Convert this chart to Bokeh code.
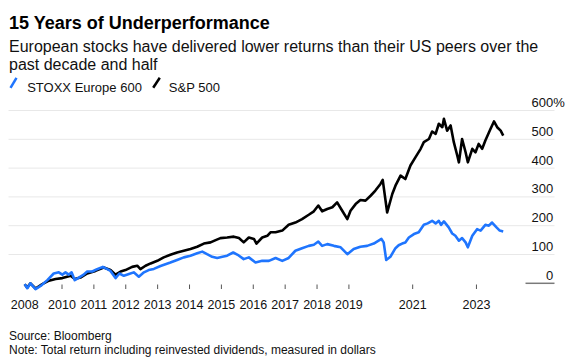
from bokeh.plotting import figure
from bokeh.models import Range1d
from bokeh.core.properties import value
from bokeh.embed import file_html
from bokeh.resources import INLINE

# ---------------- data ----------------
TITLE = "15 Years of Underperformance"
SUBTITLE_LINES = [
    "European stocks have delivered lower returns than their US peers over the",
    "past decade and half",
]
SERIES_NAMES = ["STOXX Europe 600", "S&P 500"]
SOURCE = "Source: Bloomberg"
NOTE = "Note: Total return including reinvested dividends, measured in dollars"

# decimal years / cumulative total return in %
STOXX_T = [2008.83, 2008.91, 2009.01, 2009.17, 2009.33, 2009.54, 2009.74, 2009.90, 2010.01, 2010.11,
           2010.21, 2010.30, 2010.40, 2010.53, 2010.68, 2010.79, 2010.95, 2011.10, 2011.28, 2011.42,
           2011.52, 2011.68, 2011.80, 2011.94, 2012.10, 2012.25, 2012.41, 2012.57, 2012.72, 2012.88,
           2013.09, 2013.40, 2013.61, 2013.82, 2014.03, 2014.24, 2014.40, 2014.55, 2014.71, 2014.87,
           2015.03, 2015.18, 2015.37, 2015.51, 2015.70, 2015.86, 2016.07, 2016.28, 2016.49, 2016.70,
           2016.91, 2017.11, 2017.32, 2017.53, 2017.74, 2017.90, 2018.04, 2018.16, 2018.32, 2018.53,
           2018.74, 2018.95, 2019.15, 2019.36, 2019.57, 2019.78, 2020.02, 2020.09, 2020.17, 2020.30,
           2020.46, 2020.56, 2020.67, 2020.77, 2020.88, 2021.04, 2021.19, 2021.35, 2021.47, 2021.61,
           2021.72, 2021.82, 2021.89, 2021.98, 2022.13, 2022.24, 2022.34, 2022.45, 2022.55, 2022.66,
           2022.73, 2022.87, 2023.02, 2023.13, 2023.28, 2023.39, 2023.49, 2023.63, 2023.73, 2023.84]
STOXX_V = [-3, -17, 0, -20, -9, 11, 34, 38, 30, 38,
           30, 38, 11, 20, 30, 41, 41, 49, 57, 49,
           43, 18, 34, 26, 32, 38, 23, 38, 46, 50,
           60, 72, 81, 90, 96, 104, 110, 101, 92, 88,
           92, 96, 107, 99, 84, 90, 72, 78, 78, 88,
           78, 88, 113, 122, 130, 134, 145, 130, 136, 130,
           125, 101, 119, 127, 130, 138, 154, 142, 81, 92,
           122, 132, 138, 142, 159, 171, 177, 203, 208, 217,
           208, 217, 203, 215, 194, 173, 165, 148, 157, 142,
           125, 165, 188, 183, 203, 200, 211, 194, 183, 180]

SPX_T = [2008.83, 2008.91, 2009.01, 2009.17, 2009.38, 2009.59, 2009.80, 2010.01, 2010.16, 2010.27,
         2010.40, 2010.58, 2010.79, 2011.05, 2011.31, 2011.52, 2011.68, 2011.84, 2011.99, 2012.20,
         2012.36, 2012.46, 2012.62, 2012.78, 2012.99, 2013.19, 2013.40, 2013.61, 2013.82, 2014.03,
         2014.24, 2014.45, 2014.66, 2014.82, 2014.97, 2015.18, 2015.39, 2015.55, 2015.70, 2015.86,
         2016.02, 2016.10, 2016.28, 2016.44, 2016.54, 2016.70, 2016.91, 2017.11, 2017.32, 2017.53,
         2017.74, 2017.90, 2018.04, 2018.16, 2018.32, 2018.48, 2018.63, 2018.79, 2018.95, 2019.05,
         2019.21, 2019.36, 2019.52, 2019.68, 2019.83, 2019.99, 2020.06, 2020.20, 2020.36, 2020.46,
         2020.62, 2020.77, 2020.93, 2021.09, 2021.25, 2021.35, 2021.51, 2021.61, 2021.72, 2021.82,
         2021.93, 2021.98, 2022.08, 2022.19, 2022.29, 2022.40, 2022.45, 2022.55, 2022.66, 2022.73,
         2022.87, 2022.97, 2023.07, 2023.18, 2023.28, 2023.44, 2023.55, 2023.65, 2023.76, 2023.84]
SPX_V = [-3, -15, 0, -18, -3, 9, 15, 18, 23, 26,
         15, 20, 34, 43, 55, 46, 30, 41, 46, 57,
         61, 49, 61, 69, 78, 90, 99, 107, 113, 119,
         127, 138, 142, 150, 157, 159, 162, 157, 142, 159,
         154, 138, 159, 165, 177, 177, 183, 203, 211, 223,
         238, 250, 270, 250, 258, 264, 281, 252, 223, 252,
         275, 289, 287, 304, 322, 345, 359, 246, 310, 339,
         374, 362, 409, 438, 467, 490, 501, 527, 519, 554,
         542, 571, 530, 548, 490, 443, 420, 501, 455, 420,
         467, 455, 484, 467, 496, 536, 562, 542, 530, 513]

X_TICKS = [2010, 2011, 2012, 2013, 2014, 2015, 2016, 2017, 2018, 2019, 2021, 2023]
X_TICK_LABELS = ["2010", "2011", "2012", "2013", "2014", "2015", "2016", "2017",
                 "2018", "2019", "2021", "2023"]
FIRST_LABEL = "2008"
Y_TICKS = [0, 100, 200, 300, 400, 500, 600]
Y_TICK_LABELS = ["0", "100", "200", "300", "400", "500", "600"]
Y_UNIT = "%"

COLORS = ["#1f75fe", "#000000"]

# ---------------- layout (canvas pixels) ----------------
W, H = 568, 357
PX_PER_YEAR = 31.88
FX_2010 = 61.5          # canvas x of the 2010 tick
PX_PER_PCT = 0.288
FY_ZERO = 282.8         # canvas y of the 0% level

x0 = 2010 - FX_2010 / PX_PER_YEAR
y_bottom = (FY_ZERO - H) / PX_PER_PCT
y_top = FY_ZERO / PX_PER_PCT

FONT = value("Liberation Sans")
TXT = "#111111"

p = figure(width=W, height=H, output_backend="svg", toolbar_location=None,
           x_range=Range1d(x0, x0 + W / PX_PER_YEAR), y_range=Range1d(y_bottom, y_top),
           x_axis_type=None, y_axis_type=None,
           min_border=0, min_border_left=0, min_border_right=0,
           min_border_top=0, min_border_bottom=0)
p.outline_line_color = None
p.background_fill_color = "white"
p.border_fill_color = "white"
p.extra_x_ranges = {"px": Range1d(0, W)}
p.extra_y_ranges = {"px": Range1d(H, 0)}

# grid lines
grid_vals = Y_TICKS[1:]
p.segment(x0=[8] * len(grid_vals), x1=[554] * len(grid_vals), y0=grid_vals, y1=grid_vals,
          x_range_name="px", line_color="#e8e8e8", line_width=1)
p.segment(x0=[525], x1=[554], y0=[Y_TICKS[0]], y1=[Y_TICKS[0]],
          x_range_name="px", line_color="#7a7a7a", line_width=1.5)

# series
p.line(SPX_T, SPX_V, line_color=COLORS[1], line_width=2.6, line_join="round")
p.line(STOXX_T, STOXX_V, line_color=COLORS[0], line_width=2.6, line_join="round")

# y labels
p.text(x=[552.7] * len(Y_TICKS), y=Y_TICKS, text=Y_TICK_LABELS, x_range_name="px",
       text_align="right", text_baseline="alphabetic", y_offset=-8,
       text_font=FONT, text_font_size="13px", text_color=TXT)
p.text(x=[552.7], y=[Y_TICKS[-1]], text=[Y_UNIT], x_range_name="px",
       text_align="left", text_baseline="alphabetic", y_offset=-8,
       text_font=FONT, text_font_size="13px", text_color=TXT)

# x ticks and labels
p.segment(x0=X_TICKS, x1=X_TICKS, y0=[284] * len(X_TICKS), y1=[288.5] * len(X_TICKS),
          y_range_name="px", line_color="#555555", line_width=1)
p.text(x=[STOXX_T[0]] + X_TICKS, y=[304.3] * (len(X_TICKS) + 1),
       text=[FIRST_LABEL] + X_TICK_LABELS, y_range_name="px",
       text_align="center", text_baseline="alphabetic",
       text_font=FONT, text_font_size="12.5px", text_color=TXT)

# header
p.text(x=[8.5], y=[22.7], text=[TITLE], x_range_name="px", y_range_name="px",
       text_font=FONT, text_font_size="18px", text_font_style="bold",
       text_color="#000000", text_baseline="alphabetic")
p.text(x=[8.5, 8.5], y=[45.7, 64.3], text=SUBTITLE_LINES, x_range_name="px", y_range_name="px",
       text_font=FONT, text_font_size="16px", text_color=TXT, text_baseline="alphabetic")

# legend
p.segment(x0=[10, 152.7], y0=[87.3, 87.3], x1=[16, 159.3], y1=[77.3, 77.3],
          x_range_name="px", y_range_name="px", line_color=COLORS, line_width=2.5)
p.text(x=[26.7, 168.3], y=[86.7, 86.7], text=SERIES_NAMES, x_range_name="px", y_range_name="px",
       text_font=FONT, text_font_size="13px", text_color=TXT, text_baseline="alphabetic")

# footer
p.text(x=[8.5, 8.5], y=[335.7, 349], text=[SOURCE, NOTE], x_range_name="px", y_range_name="px",
       text_font=FONT, text_font_size="12px", text_color=TXT, text_baseline="alphabetic")

open("out.html", "w").write(file_html(p, INLINE))
